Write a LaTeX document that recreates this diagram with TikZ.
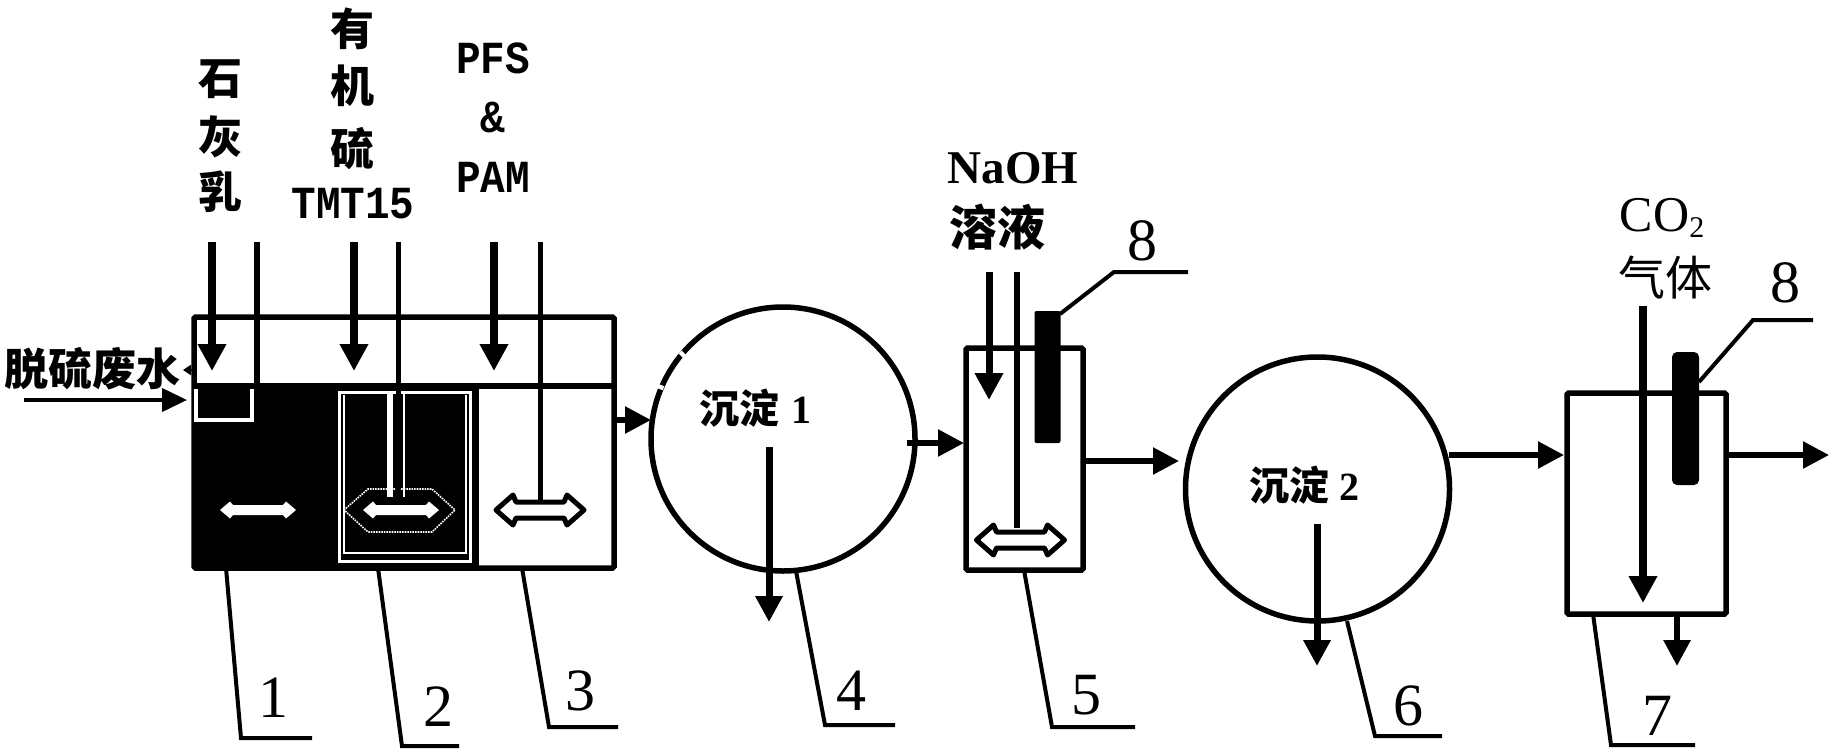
\documentclass[tikz,border=0pt]{standalone}
\usepackage{fontspec}
\setmainfont{Liberation Serif}
\newfontfamily\cjk{Noto Sans CJK SC}
\newfontfamily\mon{Liberation Mono}
\usetikzlibrary{arrows.meta}
\newcommand{\fsz}[1]{\fontsize{#1}{#1}\selectfont}
\tikzset{
  vessel/.style={draw=black,line width=5.5pt,fill=white,rounded corners=1.5pt,inner sep=0pt,outer sep=0pt},
  drum/.style={circle,draw=black,line width=5.5pt,fill=white,inner sep=0pt,outer sep=0pt,minimum size=264pt},
  flow/.style={line width=5.5pt,-{Triangle[length=26pt,width=26pt]}},
  feed/.style={line width=7.5pt,-{Triangle[length=27pt,width=27pt]}},
  shaft/.style={line width=5pt},
  leader/.style={line width=4pt},
  num/.style={inner sep=0pt,font=\fsz{60}},
  han/.style={inner sep=0pt,font=\cjk\bfseries\fsz{44}},
  monob/.style={inner sep=0pt,font=\mon\bfseries\fsz{41},yscale=1.12},
  probe/.style={fill=black,inner sep=0pt,rounded corners=2pt,minimum width=26pt},
  paddlew/.style={fill=white,draw=none},
  paddleh/.style={fill=white,draw=black,line width=5pt,line join=round}
}
% paddle: style, centre x, centre y, half length, head length, head half height, shaft half height
\newcommand{\paddle}[7]{%
  \path[#1] (#2-#4,#3) -- (#2-#4+#5,#3-#6) -- (#2-#4+#5+3,#3-#7) -- (#2+#4-#5-3,#3-#7) -- (#2+#4-#5,#3-#6)
    -- (#2+#4,#3) -- (#2+#4-#5,#3+#6) -- (#2+#4-#5-3,#3+#7) -- (#2-#4+#5+3,#3+#7) -- (#2-#4+#5,#3+#6) -- cycle;}
\begin{document}
\begin{tikzpicture}[x=1pt,y=-1pt]
\useasboundingbox (0,0) rectangle (1833,752);
% --- mixing tank
\node[vessel,minimum width=420pt,minimum height=251pt] (tank) at (404,442.5) {};
\fill[black] (194,385) rectangle (479,568);
\draw[line width=5.5pt] (tank.west |- 0,386) coordinate (ml) -- (tank.east |- 0,386) coordinate (mr);
% white outlines in the black cells
\draw[white,line width=4pt] (196,389) -- (196,420) -- (252,420) -- (252,389);
\node[draw=white,line width=3pt,fill=black,inner sep=0pt,minimum width=131pt,minimum height=169pt] (cell2) at (405,477) {};
\draw[white,line width=1.5pt] (344,395) -- (344,553) -- (466,553) -- (466,395);
\draw[white,line width=6pt] (390,392) -- (390,497);
\draw[white,line width=2.2pt] (404,392) -- (404,497);
\draw[white,line width=1.6pt,densely dotted] (344,510) -- (368,489) -- (432,489) -- (455,510) -- (432,532) -- (368,532) -- cycle;
\paddle{paddlew}{258}{510}{38}{10}{8.5}{5}
\paddle{paddlew}{401}{510}{38}{10}{8.5}{5}
\paddle{paddleh}{540}{510}{44}{17}{15}{8}
% --- dosing lines over mixing tank
\coordinate (limeT) at (212,242); \coordinate (limeE) at (212,371);
\coordinate (tmtT) at (354,242); \coordinate (tmtE) at (354,371);
\coordinate (pfsT) at (494,242); \coordinate (pfsE) at (494,371);
\coordinate (s1T) at (257,242); \coordinate (s1E) at (257,386);
\coordinate (s2T) at (398,242); \coordinate (s2E) at (398,498);
\coordinate (s3T) at (540,242); \coordinate (s3E) at (540,500);
\draw[feed] (limeT) -- (limeE);
\draw[feed] (tmtT) -- (tmtE);
\draw[feed] (pfsT) -- (pfsE);
\draw[line width=6pt] (s1T) -- (s1E);
\draw[line width=5pt] (s2T) -- (s2E);
\draw[shaft] (s3T) -- (s3E);
% --- inlet
\coordinate (inS) at (24,400); \coordinate (inE) at (187,400);
\draw[line width=4pt,-{Triangle[length=25pt,width=23pt]}] (inS) -- (inE);
\coordinate (smS) at (194,370); \coordinate (smE) at (183,370);
\draw[line width=2.5pt,-{Triangle[length=8pt,width=10pt]}] (smS) -- (smE);
\node[inner sep=0pt,font=\cjk\bfseries\fsz{44}] (water) at (93,369) {脱硫废水};
% --- dosing labels
\node[han] (l1) at (220,79) {石};
\node[han] (l2) at (220,137) {灰};
\node[han] (l3) at (220,192) {乳};
\node[han] (o1) at (352,29) {有};
\node[han] (o2) at (352,86) {机};
\node[han] (o3) at (352,149) {硫};
\node[monob] (tmt) at (353,204) {TMT15};
\node[monob] (pfs) at (493,58) {PFS};
\node[monob] (amp) at (493,117) {\&};
\node[monob] (pam) at (493,177) {PAM};
% --- settler 1
\node[drum] (d1) at (783,439) {};
\draw[white,line width=7pt,line cap=butt] (659.5,389) -- (661,385);
\draw[white,line width=7pt,line cap=butt] (681,356) -- (684,353);
\node[inner sep=0pt] (d1t) at (755,408) {{\cjk\bfseries\fsz{40}沉淀}\hspace{12pt}{\bfseries\fsz{40}1}};
\coordinate (d1a) at (769,447); \coordinate (d1b) at (769,622);
\draw[flow,line width=7pt] (d1a) -- (d1b);
\coordinate (t1o) at (614,420); \coordinate (d1i) at (651,420);
\draw[flow] (t1o) -- (d1i);
% --- vessel 5
\node[vessel,minimum width=117pt,minimum height=222pt] (v5) at (1024.5,459) {};
\coordinate (d1o) at (907,443); \coordinate (v5i) at (964,443);
\draw[flow] (d1o) -- (v5i);
\node[inner sep=0pt,font=\bfseries\fsz{47}] (naoh) at (1013,168) {NaOH};
\node[inner sep=0pt,font=\cjk\bfseries\fsz{48}] (sol) at (997,227) {溶液};
\coordinate (naT) at (989,272); \coordinate (naE) at (989,400);
\draw[feed,line width=7pt] (naT) -- (naE);
\coordinate (sh5T) at (1016.5,272); \coordinate (sh5E) at (1016.5,528);
\draw[line width=6pt] (sh5T) -- (sh5E);
\paddle{paddleh}{1020.5}{540}{44}{17}{15}{8}
\node[probe,minimum height=132pt] (p5) at (1047.5,377) {};
\coordinate (v5o) at (1085,461); \coordinate (d2i) at (1179,461);
\draw[flow] (v5o) -- (d2i);
% --- settler 2
\node[drum] (d2) at (1317.5,489) {};
\node[inner sep=0pt] (d2t) at (1304,485) {{\cjk\bfseries\fsz{40}沉淀}\hspace{10pt}{\bfseries\fsz{40}2}};
\coordinate (d2a) at (1317,524); \coordinate (d2b) at (1317,666);
\draw[flow,line width=7pt] (d2a) -- (d2b);
\coordinate (d2o) at (1449,455); \coordinate (v7i) at (1564,455);
\draw[flow] (d2o) -- (v7i);
% --- vessel 7
\node[vessel,minimum width=159pt,minimum height=221pt] (v7) at (1646.5,503.5) {};
\node[inner sep=0pt,font=\fsz{50}] (co2) at (1662,218) {CO\raisebox{-6pt}{\fsz{30}2}};
\node[inner sep=0pt,font=\cjk\fsz{47}] (gas) at (1665,278) {气体};
\coordinate (coT) at (1643,306); \coordinate (coE) at (1643,603);
\draw[feed] (coT) -- (coE);
\node[probe,minimum height=133pt,minimum width=27pt,rounded corners=5pt] (p7) at (1685.5,418.5) {};
\coordinate (v7o) at (1729,455); \coordinate (outE) at (1829,455);
\draw[flow] (v7o) -- (outE);
\coordinate (v7b) at (1677,616); \coordinate (v7bE) at (1677,666);
\draw[flow,line width=6pt] (v7b) -- (v7bE);
% --- leaders and numbers
\coordinate (a1) at (226,568); \coordinate (b1) at (241,738); \coordinate (c1) at (312,738);
\draw[leader] (a1) -- (b1) -- (c1);
\node[num] (n1) at (273,698) {1};
\coordinate (a2) at (378,568); \coordinate (b2) at (402,746); \coordinate (c2) at (459,746);
\draw[leader] (a2) -- (b2) -- (c2);
\node[num] (n2) at (438,707) {2};
\coordinate (a3) at (522,568); \coordinate (b3) at (549,727); \coordinate (c3) at (618,727);
\draw[leader] (a3) -- (b3) -- (c3);
\node[num] (n3) at (580,691) {3};
\coordinate (a4) at (796,571); \coordinate (b4) at (825,725); \coordinate (c4) at (895,725);
\draw[leader] (a4) -- (b4) -- (c4);
\node[num] (n4) at (851,691) {4};
\coordinate (a5) at (1024,570); \coordinate (b5) at (1052,727); \coordinate (c5) at (1135,727);
\draw[leader] (a5) -- (b5) -- (c5);
\node[num] (n5) at (1086,695) {5};
\coordinate (a6) at (1347,621); \coordinate (b6) at (1375,736); \coordinate (c6) at (1442,736);
\draw[leader] (a6) -- (b6) -- (c6);
\node[num] (n6) at (1408,706) {6};
\coordinate (a7) at (1593,614); \coordinate (b7) at (1611,745); \coordinate (c7) at (1695,745);
\draw[leader] (a7) -- (b7) -- (c7);
\node[num] (n7) at (1657,716) {7};
\coordinate (a8) at (1060,314); \coordinate (b8) at (1114,272); \coordinate (c8) at (1188,272);
\draw[leader] (a8) -- (b8) -- (c8);
\node[num] (n8) at (1142,241) {8};
\coordinate (a9) at (1699,382); \coordinate (b9) at (1753,320); \coordinate (c9) at (1813,320);
\draw[leader] (a9) -- (b9) -- (c9);
\node[num] (n9) at (1785,283) {8};
\end{tikzpicture}
\end{document}
